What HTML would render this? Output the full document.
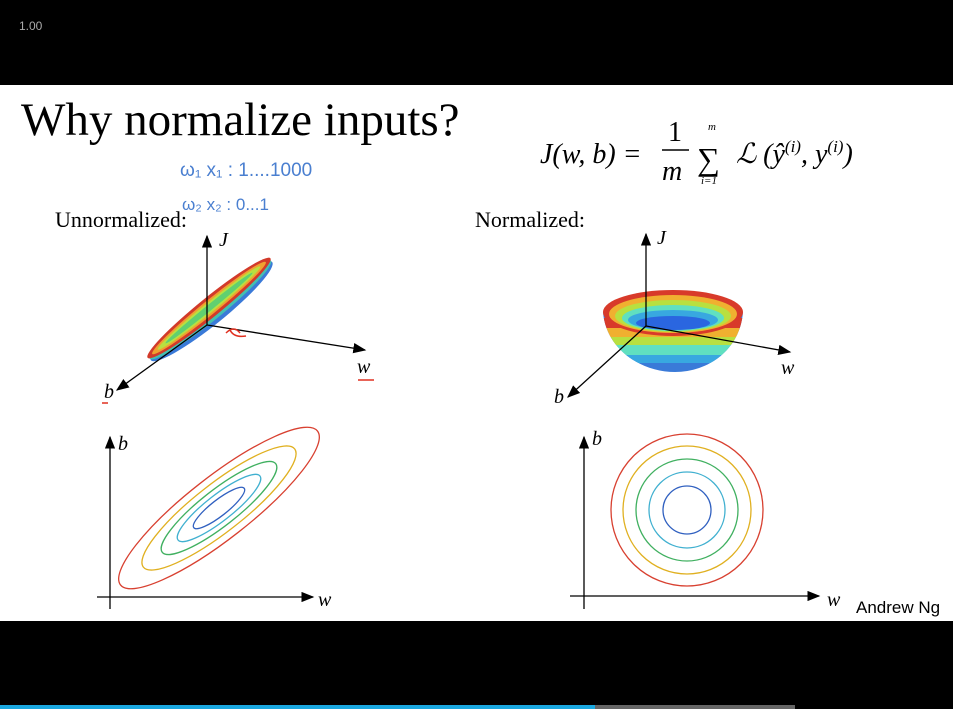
<!DOCTYPE html>
<html><head><meta charset="utf-8"><style>
body{margin:0;width:953px;height:709px;background:#000;overflow:hidden;font-family:"Liberation Serif",serif}
svg{position:absolute;left:0;top:0}
</style></head><body>
<svg width="953" height="709">
<defs>
<marker id="ar" markerWidth="10" markerHeight="8" refX="9" refY="4" orient="auto"><path d="M0,0L10,4L0,8z" fill="#000"/></marker>
<clipPath id="bowl"><path d="M603,312 A74,22 0 0 1 743,312 C740,350 708,372 675,372 C642,372 606,350 603,312z"/></clipPath>
</defs>
<text x="19" y="30" fill="#aaa" font-family="Liberation Sans" font-size="12">1.00</text>
<rect x="0" y="85" width="953" height="536" fill="#fff"/>
<rect x="0" y="705" width="595" height="4" fill="#1aa8e0"/>
<rect x="595" y="705" width="200" height="4" fill="#666"/>
<text x="21" y="135" font-size="47">Why normalize inputs?</text>
<g font-style="italic" font-size="28">
<text x="540" y="163">J(w, b) =</text>
<text x="668" y="141" font-style="normal">1</text><line x1="662" y1="150" x2="689" y2="150" stroke="#000" stroke-width="1.5"/>
<text x="662" y="180">m</text>
<text x="697" y="170" font-style="normal" font-size="32">∑</text>
<text x="708" y="130" font-size="11">m</text><text x="701" y="184" font-size="11">i=1</text>
<text x="736" y="163">ℒ (ŷ<tspan font-size="17" dy="-11">(i)</tspan><tspan dy="11">, y</tspan><tspan font-size="17" dy="-11">(i)</tspan><tspan dy="11">)</tspan></text>
</g>
<g font-family="Liberation Sans" fill="#4a7fd0">
<text x="180" y="176" font-size="19">ω₁  x₁ : 1....1000</text>
<text x="182" y="210" font-size="17">ω₂   x₂ : 0...1</text>
</g>
<text x="55" y="227" font-size="22">Unnormalized:</text>
<text x="475" y="227" font-size="22">Normalized:</text>

<g transform="translate(209,308) rotate(-39)">
<ellipse cx="0" cy="4" rx="78" ry="13" fill="#3a7ad8"/>
<ellipse cx="0" cy="2" rx="78" ry="11" fill="#44c0b0"/>
<ellipse cx="0" cy="0" rx="79" ry="10" fill="#d23a2a"/>
<ellipse cx="0" cy="0" rx="73" ry="7" fill="#f0a030"/>
<ellipse cx="0" cy="0" rx="66" ry="5" fill="#b8e040"/>
<ellipse cx="0" cy="0" rx="56" ry="3" fill="#60d070"/>
</g>
<g stroke="#000" stroke-width="1.3">
<line x1="207" y1="325" x2="207" y2="236" marker-end="url(#ar)"/>
<line x1="207" y1="325" x2="365" y2="350" marker-end="url(#ar)"/>
<line x1="207" y1="325" x2="117" y2="390" marker-end="url(#ar)"/>
</g>
<text x="219" y="246" font-size="20" font-style="italic">J</text>
<text x="357" y="373" font-size="20" font-style="italic">w</text>
<text x="104" y="398" font-size="20" font-style="italic">b</text>
<path d="M358,380 h16 M102,403 h6 M226,333 q8,-8 14,0 M230,330 q4,8 16,6" stroke="#e03020" fill="none" stroke-width="1.5"/>

<g clip-path="url(#bowl)">
<rect x="600" y="280" width="150" height="100" fill="#3a7ad8"/>
<rect x="600" y="355" width="150" height="8" fill="#38a8e0"/>
<rect x="600" y="345" width="150" height="10" fill="#60e0c0"/>
<rect x="600" y="337" width="150" height="8" fill="#b8e040"/>
<rect x="600" y="328" width="150" height="9" fill="#f0b030"/>
<rect x="600" y="318" width="150" height="10" fill="#d83a2a"/>
</g>
<path d="M603,312 A70,22 0 0 1 743,312 A70,24 0 0 1 603,312z" fill="#d83a2a"/>
<ellipse cx="673" cy="314" rx="64" ry="19" fill="#f0b030"/>
<ellipse cx="673" cy="316" rx="58" ry="16" fill="#b8e040"/>
<ellipse cx="673" cy="318" rx="51" ry="13" fill="#60e0c0"/>
<ellipse cx="673" cy="320" rx="45" ry="10" fill="#38a8e0"/>
<ellipse cx="673" cy="323" rx="37" ry="7" fill="#2a66e0"/>
<g stroke="#000" stroke-width="1.3">
<line x1="646" y1="326" x2="646" y2="234" marker-end="url(#ar)"/>
<line x1="646" y1="326" x2="790" y2="352" marker-end="url(#ar)"/>
<line x1="646" y1="326" x2="568" y2="397" marker-end="url(#ar)"/>
</g>
<text x="657" y="244" font-size="20" font-style="italic">J</text>
<text x="781" y="374" font-size="20" font-style="italic">w</text>
<text x="554" y="403" font-size="20" font-style="italic">b</text>

<g stroke="#000" stroke-width="1.3">
<line x1="110" y1="609" x2="110" y2="437" marker-end="url(#ar)"/>
<line x1="97" y1="597" x2="313" y2="597" marker-end="url(#ar)"/>
<line x1="584" y1="609" x2="584" y2="437" marker-end="url(#ar)"/>
<line x1="570" y1="596" x2="819" y2="596" marker-end="url(#ar)"/>
</g>
<text x="118" y="450" font-size="20" font-style="italic">b</text>
<text x="318" y="606" font-size="20" font-style="italic">w</text>
<text x="592" y="445" font-size="20" font-style="italic">b</text>
<text x="827" y="606" font-size="20" font-style="italic">w</text>
<g id="lc"></g>
<g id="rc"></g>
<text x="856" y="613" font-family="Liberation Sans" font-size="17">Andrew Ng</text>
</svg>
<script>
const levels=[1,2,3,4,5];
const leftMajor=[125,96,72,52,32];
const leftMinor=[31,24,18,13,8];
const rightRadius=[76,64,51,38,24];
const colors=["#d84030","#e0b020","#40b060","#40b0d0","#3060c0"];
const NS="http://www.w3.org/2000/svg";
const lc=document.getElementById('lc'),rc=document.getElementById('rc');
levels.forEach((l,i)=>{
 const e=document.createElementNS(NS,'ellipse');
 
 
 e.setAttribute('cx',0);e.setAttribute('cy',0);
 e.setAttribute('rx',leftMajor[i]);e.setAttribute('ry',leftMinor[i]);
 e.setAttribute('transform','translate(219,508) rotate(-38)');
 e.setAttribute('fill','none');e.setAttribute('stroke',colors[i]);e.setAttribute('stroke-width','1.3');
 lc.appendChild(e);
 const c=document.createElementNS(NS,'circle');
 
 
 c.setAttribute('cx',687);c.setAttribute('cy',510);c.setAttribute('r',rightRadius[i]);
 c.setAttribute('fill','none');c.setAttribute('stroke',colors[i]);c.setAttribute('stroke-width','1.3');
 rc.appendChild(c);
});
</script>
</body></html>
